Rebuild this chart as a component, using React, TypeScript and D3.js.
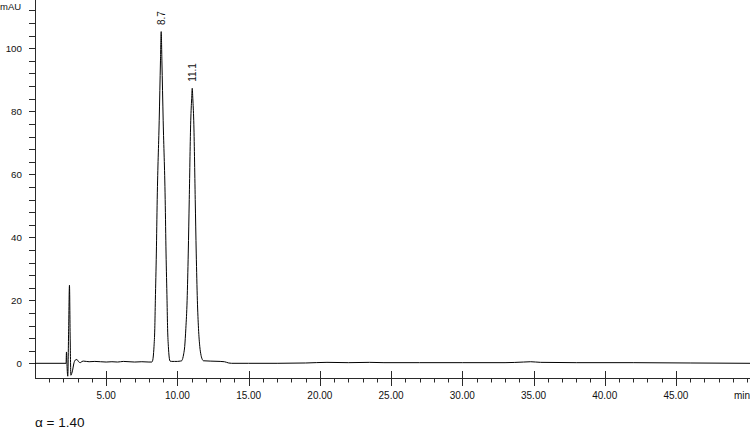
import React, { useEffect, useRef } from 'react';
import * as d3 from 'd3';

// [time (min), signal (mAU)]
const injectionTrace: [number, number][] = [
  [0, 0], [2.18, 0], [2.21, 3.6], [2.25, -1], [2.3, -4.1], [2.36, 10], [2.42, 24.8],
  [2.47, 8], [2.52, -3.8], [2.58, -3.2], [2.64, -2.2], [2.72, -0.2], [2.82, 1.0],
  [2.94, 1.2], [3.06, 0.5], [3.18, 0.2], [3.3, 0.6], [3.4, 0.7],
];

const baselineBefore: [number, number][] = [
  [3.8, 0.5], [4.2, 0.6], [4.6, 0.5], [5.0, 0.4], [5.4, 0.5], [5.8, 0.4], [6.2, 0.6],
  [6.6, 0.5], [7.0, 0.4], [7.5, 0.5], [8.0, 0.4], [8.2, 0.4],
];

const peakOneTrace: [number, number][] = [
  [8.24, 0.6], [8.3, 2], [8.355, 5.3], [8.41, 11], [8.45, 20], [8.52, 35], [8.58, 52],
  [8.72, 77], [8.81, 96], [8.86, 105.3], [8.91, 96], [9.0, 77], [9.14, 52], [9.2, 35],
  [9.27, 20], [9.31, 11], [9.365, 5.3], [9.42, 2], [9.48, 0.7],
];

const valleyTrace: [number, number][] = [
  [9.6, 0.6], [9.8, 0.6], [10.0, 0.6], [10.2, 0.7],
];

const peakTwoTrace: [number, number][] = [
  [10.3, 0.8], [10.37, 1.5], [10.44, 3], [10.51, 5.3], [10.59, 11], [10.68, 20],
  [10.76, 35], [10.83, 52], [10.935, 77], [11.0, 84], [11.04, 87.3], [11.08, 84],
  [11.145, 77], [11.25, 52], [11.32, 35], [11.4, 20], [11.48, 11], [11.57, 5.3],
  [11.66, 2.5], [11.75, 1.2], [11.83, 0.8],
];

const tailTrace: [number, number][] = [
  [12.3, 0.7], [13.0, 0.6], [13.3, 0.5], [13.6, 0.1], [13.8, 0], [15, 0], [17, 0],
  [19, 0.1], [20.5, 0.3], [22, 0.2], [23.5, 0.3], [24.5, 0.2], [27, 0.2], [30, 0.2],
  [33, 0.2], [34.3, 0.4], [34.8, 0.5], [35.5, 0.3], [38, 0.2], [42, 0.2], [46, 0.1],
  [50.2, 0],
];

const peakLabels = [
  { time: 8.86, height: 105.3, label: '8.7' },
  { time: 11.04, height: 87.3, label: '11.1' },
];

const yTickValues = [0, 20, 40, 60, 80, 100];
const xLabelValues = [5, 10, 15, 20, 25, 30, 35, 40, 45];

const W = 750;
const H = 431;

export default function App() {
  const svgRef = useRef<SVGSVGElement>(null);

  useEffect(() => {
    if (!svgRef.current) return;
    const svg = d3.select(svgRef.current);
    svg.selectAll('*').remove();

    const axisY = 378;
    const x = d3.scaleLinear().domain([0, 50.2]).range([35, 750]);
    const y = d3.scaleLinear().domain([0, 100]).range([363.3, 48.3]);
    const axisColor = '#2a2a2a';
    const textColor = '#111';
    const font = 'Liberation Sans, Arial, Helvetica, sans-serif';

    // y axis
    svg.append('line')
      .attr('x1', 35.5).attr('x2', 35.5)
      .attr('y1', 0).attr('y2', axisY)
      .attr('stroke', axisColor);

    svg.selectAll('.ytick')
      .data(d3.range(0, 116, 4))
      .enter()
      .append('line')
      .attr('x1', 29).attr('x2', 35.5)
      .attr('y1', d => Math.round(y(d)) + 0.5)
      .attr('y2', d => Math.round(y(d)) + 0.5)
      .attr('stroke', axisColor);

    svg.selectAll('.ylabel')
      .data(yTickValues)
      .enter()
      .append('text')
      .attr('x', 22)
      .attr('y', d => y(d))
      .attr('dy', '0.35em')
      .attr('text-anchor', 'end')
      .style('font-family', font)
      .style('font-size', '9.8px')
      .style('fill', textColor)
      .text(d => d);

    svg.append('text')
      .attr('x', 0).attr('y', 10)
      .style('font-family', font)
      .style('font-size', '9.5px')
      .style('fill', textColor)
      .text('mAU');

    // x axis
    svg.append('line')
      .attr('x1', 35).attr('x2', W)
      .attr('y1', axisY + 0.5).attr('y2', axisY + 0.5)
      .attr('stroke', axisColor);

    svg.selectAll('.xminor')
      .data(d3.range(1, 51).filter(d => d % 5 !== 0 || d === 50))
      .enter()
      .append('line')
      .attr('x1', d => Math.round(x(d)) + 0.5)
      .attr('x2', d => Math.round(x(d)) + 0.5)
      .attr('y1', axisY).attr('y2', axisY + 4.5)
      .attr('stroke', axisColor);

    svg.selectAll('.xmajor')
      .data(xLabelValues)
      .enter()
      .append('line')
      .attr('x1', d => Math.round(x(d)) + 0.5)
      .attr('x2', d => Math.round(x(d)) + 0.5)
      .attr('y1', axisY - 7).attr('y2', axisY + 8)
      .attr('stroke', axisColor);

    svg.selectAll('.xlabel')
      .data(xLabelValues)
      .enter()
      .append('text')
      .attr('x', d => x(d))
      .attr('y', 398.5)
      .attr('text-anchor', 'middle')
      .style('font-family', font)
      .style('font-size', '10px')
      .style('fill', textColor)
      .text(d => d.toFixed(2));

    svg.append('text')
      .attr('x', 750).attr('y', 398.5)
      .attr('text-anchor', 'end')
      .style('font-family', font)
      .style('font-size', '10px')
      .style('fill', textColor)
      .text('min');

    // trace
    const trace = [
      ...injectionTrace, ...baselineBefore, ...peakOneTrace,
      ...valleyTrace, ...peakTwoTrace, ...tailTrace,
    ];
    const line = d3.line<[number, number]>()
      .x(d => x(d[0]))
      .y(d => y(d[1]))
      .curve(d3.curveMonotoneX);

    svg.append('path')
      .datum(trace)
      .attr('d', line)
      .attr('fill', 'none')
      .attr('stroke', '#000')
      .attr('stroke-width', 1);

    // peak labels
    svg.selectAll('.plabel')
      .data(peakLabels)
      .enter()
      .append('text')
      .attr('transform', d => `translate(${x(d.time) + 4},${y(d.height) - 6.5}) rotate(-90)`)
      .style('font-family', font)
      .style('font-size', '10px')
      .style('fill', textColor)
      .text(d => d.label);

    // selectivity
    svg.append('text')
      .attr('x', 35).attr('y', 427)
      .style('font-family', font)
      .style('font-size', '13.5px')
      .style('fill', textColor)
      .text('α = 1.40');
  }, []);

  return (
    <svg
      ref={svgRef}
      width={W}
      height={H}
      style={{ position: 'absolute', left: 0, top: 0, background: '#fff' }}
    />
  );
}
